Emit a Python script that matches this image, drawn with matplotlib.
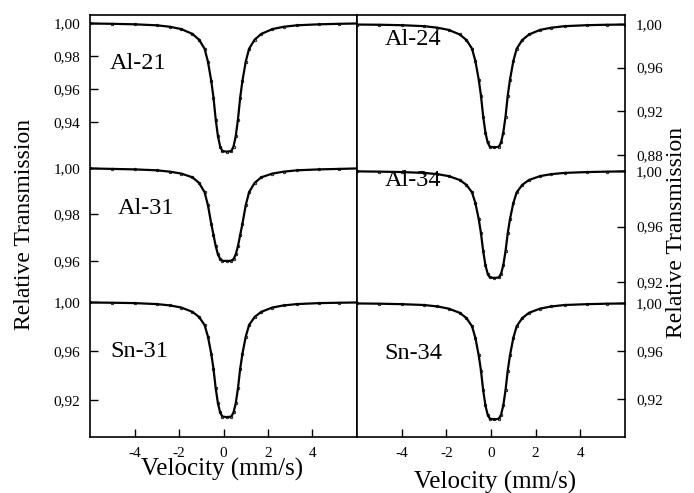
import matplotlib.pyplot as plt

plt.rcParams['font.family'] = 'Liberation Serif'
plt.rcParams['axes.unicode_minus'] = False

# velocity grid (mm/s), shared by all six spectra
velocity = [-6, -5, -4, -3, -2.4, -1.9, -1.4, -1.1, -0.85, -0.7, -0.55, -0.45, -0.35,
            -0.25, -0.15, -0.05, 0.15, 0.35, 0.45, 0.55, 0.65, 0.75, 0.85, 1.0, 1.15,
            1.4, 1.7, 2.2, 2.7, 3.3, 4.3, 5.2, 6]

# relative transmission
al21 = [0.9997, 0.9995, 0.9992, 0.9986, 0.9977, 0.9963, 0.9934, 0.9899, 0.9844, 0.9766,
        0.9649, 0.9548, 0.9415, 0.9314, 0.9251, 0.9224, 0.922, 0.9224, 0.9251, 0.9314,
        0.9415, 0.9548, 0.9649, 0.9766, 0.9844, 0.9899, 0.9934, 0.9963, 0.9977, 0.9986,
        0.9992, 0.9995, 0.9997]
al31 = [0.9998, 0.9996, 0.9994, 0.999, 0.9984, 0.9976, 0.996, 0.9936, 0.9896, 0.984,
        0.976, 0.9712, 0.9664, 0.9628, 0.9608, 0.9601, 0.96, 0.9601, 0.9608, 0.9628,
        0.9664, 0.9712, 0.976, 0.984, 0.9896, 0.9936, 0.996, 0.9976, 0.9984, 0.999,
        0.9994, 0.9996, 0.9998]
sn31 = [0.9996, 0.9994, 0.9991, 0.9983, 0.9972, 0.9955, 0.992, 0.9878, 0.9812, 0.9718,
        0.9577, 0.9455, 0.9295, 0.9173, 0.9098, 0.9065, 0.906, 0.9065, 0.9098, 0.9173,
        0.9295, 0.9455, 0.9577, 0.9718, 0.9812, 0.9878, 0.992, 0.9955, 0.9972, 0.9983,
        0.9991, 0.9994, 0.9996]
al24 = [0.9995, 0.9993, 0.9989, 0.998, 0.9966, 0.9946, 0.9904, 0.9853, 0.9774, 0.9661,
        0.9491, 0.9345, 0.9152, 0.9006, 0.8915, 0.8876, 0.887, 0.8876, 0.8915, 0.9006,
        0.9152, 0.9345, 0.9491, 0.9661, 0.9774, 0.9853, 0.9904, 0.9946, 0.9966, 0.998,
        0.9989, 0.9993, 0.9995]
al34 = [0.9997, 0.9995, 0.9992, 0.9986, 0.9977, 0.9963, 0.9935, 0.99, 0.9846, 0.9769,
        0.9654, 0.9553, 0.9423, 0.9322, 0.9261, 0.9234, 0.923, 0.9234, 0.9261, 0.9322,
        0.9423, 0.9553, 0.9654, 0.9769, 0.9846, 0.99, 0.9935, 0.9963, 0.9977, 0.9986,
        0.9992, 0.9995, 0.9997]
sn34 = [0.9996, 0.9994, 0.999, 0.9983, 0.9971, 0.9953, 0.9918, 0.9874, 0.9806, 0.9709,
        0.9564, 0.9437, 0.9273, 0.9146, 0.9069, 0.9035, 0.903, 0.9035, 0.9069, 0.9146,
        0.9273, 0.9437, 0.9564, 0.9709, 0.9806, 0.9874, 0.9918, 0.9953, 0.9971, 0.9983,
        0.999, 0.9994, 0.9996]

names_left = ['Al-21', 'Al-31', 'Sn-31']
names_right = ['Al-24', 'Al-34', 'Sn-34']
yticks_left = [[0.94, 0.96, 0.98, 1.00], [0.96, 0.98, 1.00], [0.92, 0.96, 1.00]]
yticks_right = [[0.88, 0.92, 0.96, 1.00], [0.92, 0.96, 1.00], [0.92, 0.96, 1.00]]
xticks = [-4, -2, 0, 2, 4]

# each spectrum gets its own y scale, stacked in one column
ylims_left = [(0.7491, 1.00485), (0.8843, 1.0658), (0.8898, 1.2343)]
ylims_right = [(0.6218, 1.00824), (0.8086, 1.1122), (0.8883, 1.24)]
label_pos_left = [(0.075, 0.886), (0.105, 0.541), (0.075, 0.203)]
label_pos_right = [(0.104, 0.942), (0.104, 0.607), (0.104, 0.198)]

fig = plt.figure(figsize=(6.94, 4.93), dpi=100)
rect_left = [0.1297, 0.1136, 0.3847, 0.856]
rect_right = [0.5144, 0.1136, 0.3862, 0.856]


def make_frame(rect):
    ax = fig.add_axes(rect)
    ax.set_xlim(-6, 6)
    ax.set_xticks(xticks)
    ax.set_yticks([])
    ax.tick_params(axis='x', direction='in', length=6, width=1, labelsize=11, pad=7)
    for s in ax.spines.values():
        s.set_linewidth(1.2)
    return ax


def add_spectrum(rect, T, ylim, ticks, name, pos, right=False):
    ax = fig.add_axes(rect, facecolor='none')
    ax.plot(velocity, T, color='black', lw=1.6, marker='o', ms=1.8, mfc='none', mew=0.6)
    ax.set_xlim(-6, 6)
    ax.set_ylim(*ylim)
    ax.set_xticks([])
    ax.set_yticks(ticks)
    ax.set_yticklabels([('%.2f' % t).replace('.', ',') for t in ticks])
    for s in ax.spines.values():
        s.set_visible(False)
    if right:
        ax.yaxis.tick_right()
    ax.tick_params(axis='y', direction='in', length=6, width=1, labelsize=11,
                   pad=8 if right else 7)
    ax.text(pos[0], pos[1], name, transform=ax.transAxes, fontsize=17.5, va='center')
    return ax


make_frame(rect_left)
make_frame(rect_right)

for T, lim, tk, nm, p in zip([al21, al31, sn31], ylims_left, yticks_left, names_left, label_pos_left):
    add_spectrum(rect_left, T, lim, tk, nm, p)
for T, lim, tk, nm, p in zip([al24, al34, sn34], ylims_right, yticks_right, names_right, label_pos_right):
    add_spectrum(rect_right, T, lim, tk, nm, p, right=True)

fig.text(0.036, 0.544, 'Relative Transmission', rotation=90, fontsize=17,
         ha='center', va='center')
fig.text(0.9755, 0.529, 'Relative Transmission', rotation=90, fontsize=17,
         ha='center', va='center')
fig.text(0.32, 0.047, 'Velocity (mm/s)', fontsize=18, ha='center', va='center')
fig.text(0.713, 0.022, 'Velocity (mm/s)', fontsize=18, ha='center', va='center')

plt.savefig('out.png', dpi=100)
